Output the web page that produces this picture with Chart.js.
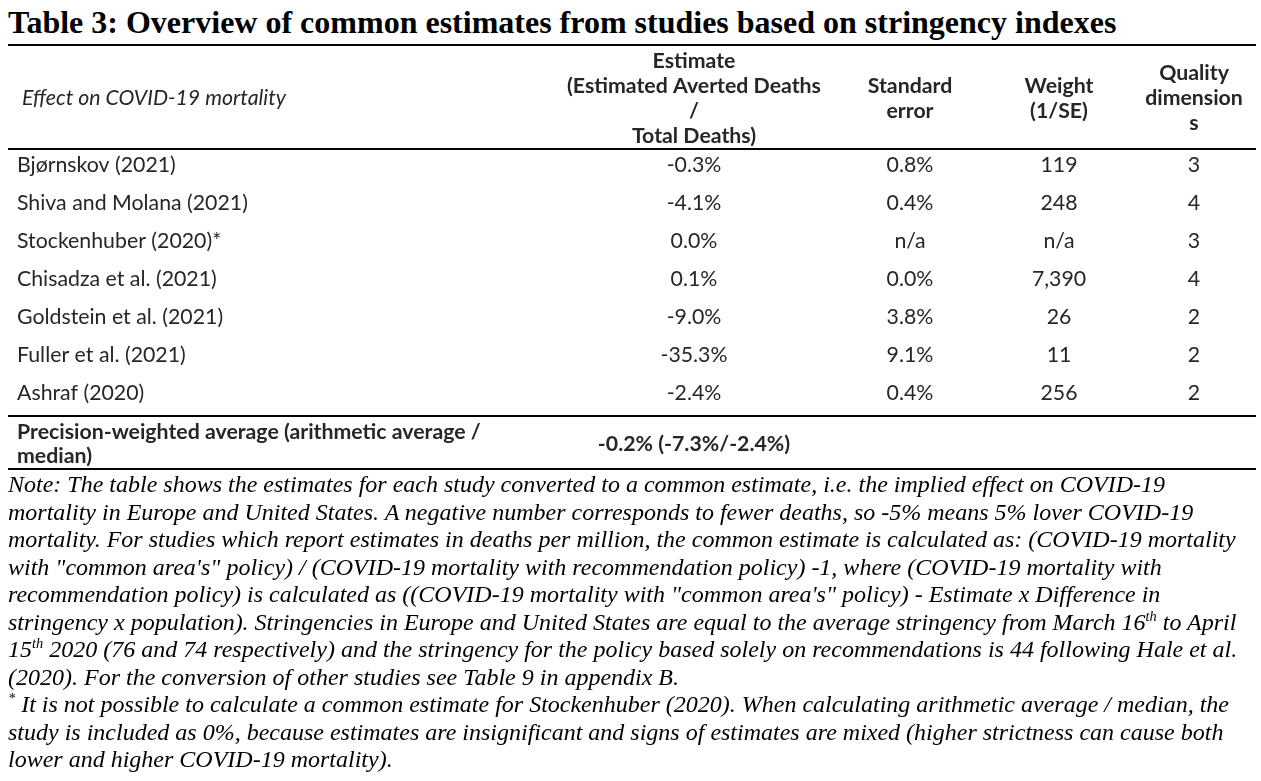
<!DOCTYPE html>
<html>
<head>
<meta charset="utf-8">
<title>Table 3</title>
<script src="https://cdn.jsdelivr.net/npm/chart.js@4.4.1/dist/chart.umd.min.js"></script>
<style>
  html, body { margin: 0; padding: 0; background: #fff; }
  body { width: 1261px; height: 781px; position: relative; overflow: hidden; }
  #title {
    position: absolute; left: 8px; top: 6px;
    font: bold 32px/32px "Liberation Serif", "Times New Roman", serif;
    color: #000; white-space: nowrap;
  }
  #tableBox { position: absolute; left: 0; top: 40px; width: 1261px; height: 440px; }
  #notes {
    position: absolute; left: 8px; top: 471px; width: 1250px;
    font: italic 24px/27.5px "Liberation Serif", "Times New Roman", serif;
    color: #000; white-space: nowrap;
  }
  .sup { font-size: 0.6em; vertical-align: 0.6em; line-height: 0; }
</style>
</head>
<body>
<div id="title">Table 3: Overview of common estimates from studies based on stringency indexes</div>
<div id="tableBox"><canvas id="tableChart"></canvas></div>
<div id="notes">Note: The table shows the estimates for each study converted to a common estimate, i.e. the implied effect on COVID-19<br>mortality in Europe and United States. A negative number corresponds to fewer deaths, so -5% means 5% lover COVID-19<br>mortality. For studies which report estimates in deaths per million, the common estimate is calculated as: (COVID-19 mortality<br>with "common area's" policy) / (COVID-19 mortality with recommendation policy) -1, where (COVID-19 mortality with<br>recommendation policy) is calculated as ((COVID-19 mortality with "common area's" policy) - Estimate x Difference in<br>stringency x population). Stringencies in Europe and United States are equal to the average stringency from March 16<span class="sup">th</span> to April<br>15<span class="sup">th</span> 2020 (76 and 74 respectively) and the stringency for the policy based solely on recommendations is 44 following Hale et al.<br>(2020). For the conversion of other studies see Table 9 in appendix B.<br><span class="sup">*</span> It is not possible to calculate a common estimate for Stockenhuber (2020). When calculating arithmetic average / median, the<br>study is included as 0%, because estimates are insignificant and signs of estimates are mixed (higher strictness can cause both<br>lower and higher COVID-19 mortality).</div>
<script>
const studies = [
  "Bjørnskov (2021)",
  "Shiva and Molana (2021)",
  "Stockenhuber (2020)*",
  "Chisadza et al. (2021)",
  "Goldstein et al. (2021)",
  "Fuller et al. (2021)",
  "Ashraf (2020)",
];
const estimates = [-0.3, -4.1, 0.0, 0.1, -9.0, -35.3, -2.4];
const standardErrors = [0.8, 0.4, null, 0.0, 3.8, 9.1, 0.4];
const weights = [119, 248, null, 7390, 26, 11, 256];
const qualityDimensions = [3, 4, 3, 4, 2, 2, 2];

const headerLines = [
  ["Effect on COVID-19 mortality"],
  ["Estimate", "(Estimated Averted Deaths", "/", "Total Deaths)"],
  ["Standard", "error"],
  ["Weight", "(1/SE)"],
  ["Quality", "dimension", "s"],
];
const summaryLabel = ["Precision-weighted average (arithmetic average /", "median)"];
const weightedAverage = -0.2;
const arithmeticAverage = -7.3;
const medianEstimate = -2.4;

// layout (column anchors in page pixels)
const columnX = [17, 694, 910, 1059, 1194];
const textColor = "#262626";
const font = '"Lato", "Noto Sans", sans-serif';
const fontSize = 21.3;

const pct = (v) => (v === null ? "n/a" : v.toFixed(1) + "%");
const num = (v) => (v === null ? "n/a" : v.toLocaleString("en-US"));

const tablePlugin = {
  id: "tableText",
  afterDraw(chart) {
    const { ctx, chartArea, scales } = chart;
    const x = scales.x;
    const y = scales.y;
    const left = 8;
    const right = 1256;
    const base = 7.5; // cap centre -> baseline

    ctx.save();

    // rules
    const rules = [
      chartArea.top - 100,
      chartArea.top + 4,
      chartArea.bottom + 5,
      chartArea.bottom + 58,
    ];
    ctx.strokeStyle = "#000";
    ctx.lineWidth = 2.2;
    rules.forEach((ry) => {
      ctx.beginPath();
      ctx.moveTo(x.getPixelForValue(left), ry);
      ctx.lineTo(x.getPixelForValue(right), ry);
      ctx.stroke();
    });

    ctx.fillStyle = textColor;
    ctx.textBaseline = "alphabetic";

    // header
    const headMid = (rules[0] + rules[1]) / 2 + 0.5;
    headerLines.forEach((lines, c) => {
      const lh = 25;
      const first = headMid - ((lines.length - 1) * lh) / 2;
      ctx.font = c === 0 ? `italic ${fontSize}px ${font}` : `bold ${fontSize}px ${font}`;
      ctx.textAlign = c === 0 ? "left" : "center";
      const cx = c === 0 ? x.getPixelForValue(columnX[0] + 5) : x.getPixelForValue(columnX[c]);
      lines.forEach((t, i) => ctx.fillText(t, cx, first + i * lh + base));
    });

    // body rows
    ctx.font = `${fontSize}px ${font}`;
    studies.forEach((name, i) => {
      const cy = y.getPixelForValue(i) + base;
      const cells = [
        name,
        pct(estimates[i]),
        pct(standardErrors[i]),
        num(weights[i]),
        String(qualityDimensions[i]),
      ];
      cells.forEach((t, c) => {
        ctx.textAlign = c === 0 ? "left" : "center";
        ctx.fillText(t, x.getPixelForValue(columnX[c]), cy);
      });
    });

    // summary row
    const sumMid = (rules[2] + rules[3]) / 2 + 1;
    ctx.font = `bold ${fontSize}px ${font}`;
    ctx.textAlign = "left";
    summaryLabel.forEach((t, i) =>
      ctx.fillText(t, x.getPixelForValue(columnX[0]), sumMid - 12 + i * 24 + base)
    );
    ctx.textAlign = "center";
    ctx.fillText(
      `${pct(weightedAverage)} (${pct(arithmeticAverage)}/${pct(medianEstimate)})`,
      x.getPixelForValue(columnX[1]),
      sumMid + base
    );

    ctx.restore();
  },
};

new Chart(document.getElementById("tableChart"), {
  type: "bar",
  data: {
    labels: studies,
    datasets: [{ label: "Estimate", data: estimates, backgroundColor: "rgba(0,0,0,0)", borderWidth: 0 }],
  },
  options: {
    indexAxis: "y",
    responsive: true,
    maintainAspectRatio: false,
    animation: false,
    layout: { padding: { top: 105, bottom: 69, left: 0, right: 0 } },
    plugins: { legend: { display: false }, tooltip: { enabled: false }, title: { display: false } },
    scales: {
      x: { type: "linear", min: 0, max: 1261, display: false },
      y: { type: "category", offset: true, display: false },
    },
  },
  plugins: [tablePlugin],
});
</script>
</body>
</html>
